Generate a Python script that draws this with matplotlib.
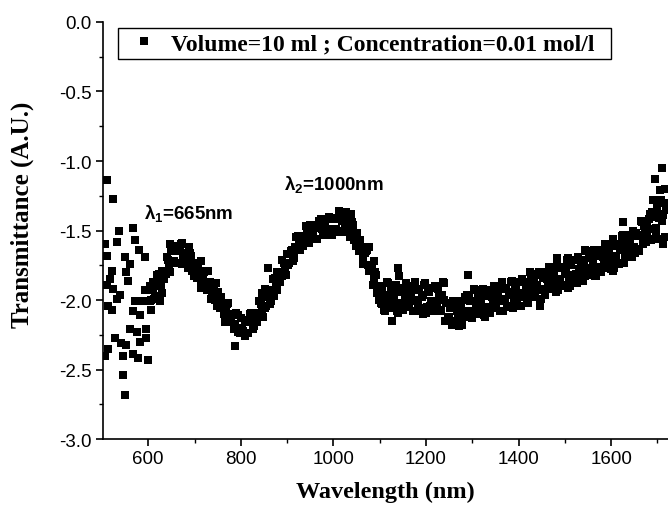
import matplotlib
matplotlib.use("Agg")
import matplotlib.pyplot as plt
from matplotlib.ticker import MultipleLocator, FormatStrFormatter

# noisy start of the spectrum (500-630 nm)
wl_start = [511, 524, 537, 567, 506, 532, 510, 571, 580, 593, 549, 560, 521, 553,
            517, 557, 510, 524, 539, 532, 521, 514, 571, 567, 582, 589, 607, 593,
            604, 611, 625, 629, 560, 575, 596, 596, 582, 528, 542, 553, 514, 506,
            546, 567, 578, 600, 546, 549]
tr_start = [-1.14, -1.27, -1.50, -1.48, -1.60, -1.58, -1.68, -1.57, -1.64, -1.69,
            -1.69, -1.74, -1.79, -1.80, -1.85, -1.86, -1.89, -1.92, -1.96, -1.99,
            -2.07, -2.04, -2.01, -2.08, -2.11, -2.01, -2.07, -1.93, -1.90, -1.87,
            -2.01, -1.95, -2.21, -2.23, -2.21, -2.27, -2.30, -2.27, -2.31, -2.32,
            -2.35, -2.40, -2.40, -2.39, -2.42, -2.43, -2.54, -2.68]

# first band: lambda1 peak, minimum near 800 nm, lambda2 peak
wl_mid = [600, 605, 610, 615, 620, 625, 630, 635, 640, 645, 650, 655, 660, 665,
          670, 675, 680, 685, 690, 695, 648, 662, 672, 688,
          700, 705, 710, 715, 720, 725, 730, 735, 740, 745, 750, 755, 760, 765,
          770, 775, 780, 785, 790, 795, 715, 729, 747, 787, 794, 766,
          800, 805, 810, 815, 820, 825, 830, 835, 840, 845, 850, 855, 860, 865,
          870, 875, 880, 885, 890, 895, 826, 808, 858, 845, 852, 872, 878,
          900, 905, 910, 915, 920, 925, 930, 935, 940, 945, 950, 955, 960, 965,
          970, 975, 980, 985, 990, 995,
          1000, 1005, 1010, 1015, 1020, 1025, 1030, 1035, 1040, 1045, 1050, 1055,
          1060, 1065, 1070, 1075, 1080, 1085, 1090, 1095, 1028, 1038, 1012, 1058,
          1078, 1088, 1098]
tr_mid = [-1.93, -2.00, -1.91, -1.97, -1.82, -1.86, -1.79, -1.85, -1.69, -1.76,
          -1.65, -1.72, -1.65, -1.73, -1.60, -1.68, -1.66, -1.77, -1.66, -1.79,
          -1.60, -1.61, -1.74, -1.62,
          -1.73, -1.84, -1.80, -1.91, -1.80, -1.89, -1.87, -1.99, -1.88, -2.00,
          -1.94, -2.06, -2.02, -2.14, -2.03, -2.12, -2.10, -2.21, -2.09, -2.20,
          -1.72, -1.79, -1.88, -2.33, -2.23, -2.16,
          -2.13, -2.22, -2.16, -2.24, -2.10, -2.15, -2.09, -2.16, -2.01, -2.08,
          -1.98, -2.04, -1.95, -2.01, -1.85, -1.89, -1.82, -1.87, -1.71, -1.78,
          -2.21, -2.26, -1.77, -1.95, -1.92, -1.97, -1.80,
          -1.67, -1.73, -1.64, -1.70, -1.55, -1.60, -1.54, -1.61, -1.47, -1.55,
          -1.46, -1.54, -1.48, -1.56, -1.43, -1.49, -1.45, -1.53, -1.40, -1.49,
          -1.41, -1.49, -1.42, -1.51, -1.39, -1.47, -1.44, -1.55, -1.44, -1.57,
          -1.52, -1.65, -1.62, -1.74, -1.65, -1.75, -1.75, -1.89, -1.80, -1.95,
          -1.37, -1.38, -1.36, -1.57, -1.62, -1.72, -2.00]

# second pass of readings between the first ones (603-1098 nm, every 5 nm)
wl_mid2 = list(range(603, 1099, 5))
tr_mid2 = [-2.01, -1.92, -1.99, -1.89, -1.81, -1.90, -1.79, -1.81, -1.71, -1.80,
           -1.73, -1.64, -1.73, -1.65, -1.59, -1.72, -1.66, -1.73, -1.68, -1.83,
           -1.81, -1.76, -1.88, -1.83, -1.79, -1.93, -1.87, -1.95, -1.90, -2.04,
           -2.02, -1.98, -2.10, -2.06, -2.02, -2.16, -2.10, -2.17, -2.11, -2.24,
           -2.21, -2.14, -2.24, -2.16, -2.09, -2.19, -2.09, -2.12, -2.03, -2.12,
           -2.06, -1.96, -2.03, -1.93, -1.84, -1.93, -1.82, -1.83, -1.73, -1.82,
           -1.75, -1.65, -1.72, -1.62, -1.54, -1.64, -1.54, -1.57, -1.49, -1.59,
           -1.54, -1.46, -1.56, -1.48, -1.42, -1.53, -1.45, -1.49, -1.42, -1.53,
           -1.49, -1.41, -1.50, -1.43, -1.38, -1.51, -1.44, -1.51, -1.46, -1.61,
           -1.60, -1.57, -1.70, -1.66, -1.64, -1.79, -1.75, -1.85, -1.82, -1.99]

# flat part and dip (1100-1290 nm)
wl_flat = [1100, 1104, 1108, 1112, 1116, 1120, 1124, 1128, 1132, 1136, 1140, 1144,
           1148, 1152, 1156, 1160, 1164, 1168, 1172, 1176, 1180, 1184, 1188, 1192,
           1196, 1200, 1204, 1208, 1212, 1216, 1220, 1224, 1228, 1232, 1236, 1240,
           1126, 1139, 1141, 1193,
           1244, 1248, 1252, 1256, 1260, 1264, 1268, 1272, 1276, 1280, 1284, 1290]
tr_flat = [-1.90, -2.03, -1.96, -2.08, -1.87, -2.00, -1.93, -2.06, -1.98, -1.89,
           -2.09, -1.94, -2.04, -1.91, -2.01, -1.90, -2.03, -1.96, -2.08, -1.87,
           -2.00, -1.93, -2.06, -1.98, -1.89, -2.09, -1.94, -2.04, -1.91, -2.01,
           -1.90, -2.03, -1.96, -2.08, -1.87, -2.00,
           -2.15, -1.77, -1.83, -2.10,
           -2.02, -2.13, -2.06, -2.18, -2.04, -2.15, -2.08, -2.19, -2.03, -2.12,
           -1.98, -1.82]

# second pass 1102-1286 nm, every 4 nm
wl_flat2 = list(range(1102, 1287, 4))
tr_flat2 = [-2.02, -1.92, -2.07, -1.96, -1.88, -2.05, -1.94, -2.01, -1.91, -2.08,
            -2.02, -1.92, -2.07, -1.96, -1.88, -2.05, -1.94, -2.01, -1.91, -2.08,
            -2.02, -1.92, -2.07, -1.96, -1.88, -2.05, -1.94, -2.01, -1.91, -2.08,
            -2.02, -1.92, -2.07, -1.96, -1.88,
            -2.15, -2.02, -2.12, -2.06, -2.01, -2.15, -2.04, -2.11, -2.01, -2.18,
            -2.08, -2.00]

# rising tail (1288-1720 nm)
wl_tail = [1288, 1292, 1296, 1300, 1304, 1308, 1312, 1316, 1320, 1324, 1328, 1332,
           1336, 1340, 1344, 1348, 1352, 1356, 1360, 1364, 1368, 1372, 1376, 1380,
           1384, 1388, 1392, 1396, 1400, 1404, 1408, 1412, 1416, 1420, 1424, 1428,
           1432, 1436, 1440, 1444, 1448, 1452, 1456, 1460, 1464, 1468, 1472, 1476,
           1480, 1484, 1488, 1492, 1496, 1500, 1504, 1508, 1512, 1516, 1520, 1524,
           1528, 1532, 1536, 1540, 1544, 1548, 1552, 1556, 1560, 1564, 1568, 1572,
           1576, 1580, 1584, 1588, 1592, 1596, 1600, 1604, 1608, 1612, 1616, 1620,
           1624, 1628, 1632, 1636, 1640, 1644, 1648, 1652, 1656, 1660, 1664, 1668,
           1672, 1676, 1680, 1684, 1688, 1692, 1696, 1700, 1704, 1708, 1712, 1716,
           1625, 1677, 1709, 1694, 1705, 1716, 1690, 1688, 1705, 1712, 1716, 1651,
           1604, 1543, 1511, 1483, 1446, 1410, 1470, 1530, 1590, 1640]
tr_tail = [-1.96, -2.09, -2.01, -2.13, -1.92, -2.04, -1.97, -2.10, -2.02, -1.92,
           -2.12, -1.97, -2.06, -1.93, -2.03, -1.91, -2.04, -1.96, -2.08, -1.87,
           -1.99, -1.92, -2.04, -1.96, -1.87, -2.06, -1.91, -2.00, -1.87, -1.97,
           -1.85, -1.98, -1.90, -2.02, -1.80, -1.93, -1.85, -1.98, -1.89, -1.80,
           -1.99, -1.84, -1.93, -1.80, -1.89, -1.77, -1.90, -1.82, -1.94, -1.72,
           -1.85, -1.77, -1.89, -1.81, -1.71, -1.91, -1.75, -1.85, -1.71, -1.81,
           -1.69, -1.82, -1.74, -1.86, -1.64, -1.77, -1.69, -1.82, -1.73, -1.64,
           -1.83, -1.68, -1.77, -1.64, -1.73, -1.62, -1.74, -1.66, -1.78, -1.56,
           -1.68, -1.61, -1.73, -1.64, -1.54, -1.73, -1.58, -1.67, -1.53, -1.62,
           -1.50, -1.63, -1.54, -1.65, -1.43, -1.55, -1.47, -1.58, -1.49, -1.38,
           -1.56, -1.40, -1.48, -1.33, -1.41, -1.28, -1.39, -1.30,
           -1.44, -1.44, -1.05, -1.13, -1.21, -1.20, -1.28, -1.37, -1.56, -1.60,
           -1.55, -1.66, -1.79, -1.83, -1.90, -1.70, -2.04, -1.95, -1.84, -1.78,
           -1.70, -1.59]

# second pass 1290-1718 nm, every 4 nm
wl_tail2 = list(range(1290, 1719, 4))
tr_tail2 = [-2.08, -1.98, -2.12, -2.01, -1.93, -2.09, -1.98, -2.05, -1.95, -2.11,
            -2.05, -1.95, -2.09, -1.98, -1.90, -2.06, -1.95, -2.01, -1.91, -2.08,
            -2.01, -1.91, -2.05, -1.94, -1.86, -2.02, -1.91, -1.97, -1.87, -2.04,
            -1.97, -1.87, -2.01, -1.90, -1.81, -1.98, -1.86, -1.93, -1.82, -1.99,
            -1.92, -1.82, -1.96, -1.85, -1.76, -1.92, -1.81, -1.87, -1.77, -1.93,
            -1.87, -1.76, -1.90, -1.79, -1.70, -1.87, -1.75, -1.82, -1.71, -1.88,
            -1.81, -1.71, -1.85, -1.74, -1.65, -1.82, -1.70, -1.77, -1.66, -1.83,
            -1.76, -1.66, -1.80, -1.69, -1.60, -1.77, -1.65, -1.71, -1.61, -1.77,
            -1.70, -1.60, -1.74, -1.62, -1.53, -1.69, -1.58, -1.64, -1.53, -1.69,
            -1.62, -1.52, -1.65, -1.53, -1.44, -1.60, -1.48, -1.53, -1.42, -1.57,
            -1.49, -1.38, -1.51, -1.38, -1.28, -1.43, -1.30, -1.35]

wavelength = wl_start + wl_mid + wl_mid2 + wl_flat + wl_flat2 + wl_tail + wl_tail2
transmittance = tr_start + tr_mid + tr_mid2 + tr_flat + tr_flat2 + tr_tail + tr_tail2

legend_label = "Volume=10 ml ; Concentration=0.01 mol/l  "
peak_labels = [r"$\lambda_1$=665nm", r"$\lambda_2$=1000nm"]
peak_pos = [(590, -1.37), (893, -1.16)]

plt.rcParams["axes.unicode_minus"] = False
plt.rcParams["mathtext.fontset"] = "custom"
plt.rcParams["mathtext.rm"] = "Liberation Sans:bold"
plt.rcParams["mathtext.it"] = "Liberation Sans:bold"

fig = plt.figure(figsize=(6.68, 5.10), dpi=100)
ax = fig.add_axes([0.154, 0.137, 0.846, 0.818])

ax.plot(wavelength, transmittance, "s", color="black", ms=6.3, mew=0,
        label=legend_label)

ax.set_xlim(502, 1723)
ax.set_ylim(-3.0, 0.0)
ax.xaxis.set_major_locator(MultipleLocator(200))
ax.xaxis.set_minor_locator(MultipleLocator(100))
ax.yaxis.set_major_locator(MultipleLocator(0.5))
ax.yaxis.set_minor_locator(MultipleLocator(0.25))
ax.yaxis.set_major_formatter(FormatStrFormatter("%.1f"))

for s in ["top", "right"]:
    ax.spines[s].set_visible(False)
for s in ["left", "bottom"]:
    ax.spines[s].set_linewidth(1.2)

ax.tick_params(which="major", direction="out", length=5, width=1.2,
               labelsize=13.5, pad=3)
ax.tick_params(which="minor", direction="out", length=3, width=1.0)
for lbl in ax.get_xticklabels() + ax.get_yticklabels():
    lbl.set_fontfamily("Liberation Sans")

ax.set_xlabel("Wavelength (nm)", fontfamily="Liberation Serif",
              fontweight="bold", fontsize=17.5, labelpad=10)
ax.set_ylabel("Transmittance (A.U.)", fontfamily="Liberation Serif",
              fontweight="bold", fontsize=18)
ax.yaxis.set_label_coords(-0.122, 0.54)

for txt, (x, y) in zip(peak_labels, peak_pos):
    ax.text(x, y, txt, fontsize=13.5, fontfamily="Liberation Sans",
            fontweight="bold", va="center", ha="left")

leg = ax.legend(loc="upper left", bbox_to_anchor=(118 / 668, 1 - 29 / 510),
                bbox_transform=fig.transFigure, borderaxespad=0,
                prop={"family": "Liberation Serif", "weight": "bold", "size": 17},
                frameon=True, fancybox=False, framealpha=1, edgecolor="black",
                handletextpad=0.25, borderpad=0.2, handlelength=1.8)
leg.get_frame().set_linewidth(1.0)

fig.savefig("out.png", dpi=100)
